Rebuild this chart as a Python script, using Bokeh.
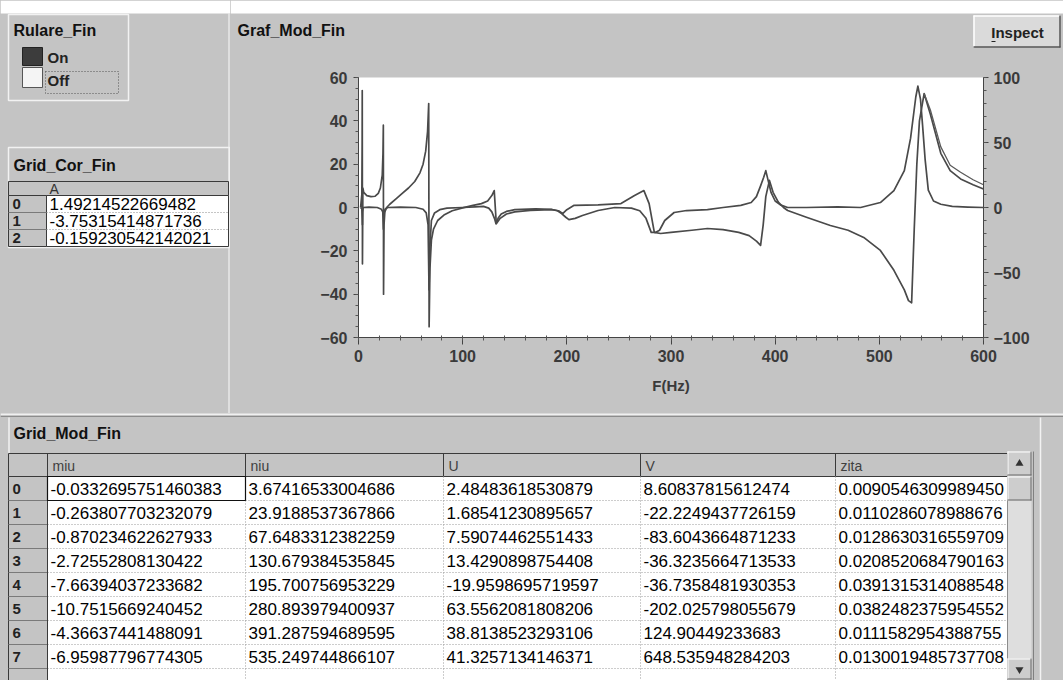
from bokeh.plotting import figure
from bokeh.models import Range1d, LinearAxis, FixedTicker
from bokeh.layouts import row, column
from bokeh.embed import file_html
from bokeh.resources import INLINE
from bokeh.core.properties import value

# ---------------- chart data ----------------
freq_A = [2, 3.2, 3.6, 3.75, 3.9, 4.5, 10, 18, 22, 23.3, 23.9, 24.4, 25.5, 28,
          40, 55, 62, 65, 66.8, 67.7, 68.6, 70, 73, 78, 85,
          100, 112, 120, 125, 128, 130.5, 132, 134, 137, 142, 150,
          170, 185, 191, 195, 199, 202, 208, 215, 230, 246,
          262, 270, 276, 281, 285, 289, 294, 303, 315, 335,
          350, 367, 377, 382, 386, 389, 391, 393, 396, 400,
          405, 412, 430, 460, 482, 501, 514, 524, 530, 535,
          537, 539.5, 541.5, 544, 547, 552, 559, 570, 585, 600]
resp_A = [0, -0.5, -5, -8, -2, 0, 0.2, 0, -0.8, -2, -10, -3, -0.8, 0,
          0.2, 0, -0.8, -2.5, -8, -38, -18, -6, -2.5, -1, -0.3,
          0, 0.3, 0.5, -0.3, -2, -5, -7.5, -5, -3, -1.8, -1,
          -0.6, -0.8, -1.5, -2.8, -4.5, -5.6, -5, -3.7, -1.4, 0,
          -0.3, -1.5, -5, -11.5, -11.5, -10.5, -6, -2.3, -1.4, -1,
          0, 1, 2.3, 5, 10, 14, 17, 13, 7, 3,
          1.2, 0, 0, 0.3, 0, 2.3, 7.8, 17, 32, 51,
          56, 50, 38, 22, 8, 3, 1.5, 0.5, 0.2, 0]

freq_B = [2, 3.2, 3.5, 3.6, 3.8, 4.2, 5, 8, 12, 16,
          19, 21, 22.8, 23.5, 23.85, 24.05, 24.5, 25.3, 27, 30,
          36, 42, 48, 54, 59, 62, 64.5, 66.3, 67.4, 67.8,
          68.6, 70, 72, 76, 82, 90, 100, 110, 118, 124,
          128, 130.3, 132.3, 136, 142, 150, 165, 185, 192, 196,
          200, 207, 230, 252, 265, 274, 279, 284, 290, 300,
          320, 335, 350, 365, 375, 382, 386, 388.5, 391, 394.5,
          398, 403, 408, 412, 430, 453, 470, 485, 501, 514,
          524, 528, 531, 533.5, 536, 538.5, 543, 549, 559, 568,
          578, 590, 600]
resp_B = [0, 6, 30, 54, -26, 9, 7, 5.5, 5, 5.2,
          6.5, 9, 15, 25, 38, -40, -8, -2, 0, 1.5,
          4, 6.5, 9, 12, 16, 20, 26, 35, 48, -55,
          -28, -15, -10, -6, -3.5, -1.5, -0.2, 1, 1.8, 3,
          5.5, 7.8, -7.5, -5, -3, -2, -1.3, -1, -1.5, -2.8,
          -1, 1, 1.2, 1.8, 5.5, 7.8, 1.8, -11.5, -12, -11.5,
          -10.5, -9.7, -10.2, -11.5, -13, -15.5, -17.5, -8, 5, 12.5,
          7, 2.5, 0, -1.4, -4.5, -8.3, -10.5, -13.8, -19.8, -29,
          -38, -43, -44, -10, 20, 40, 52.6, 43, 25, 17,
          13.2, 10.5, 8.5]

freq_B_fit = [543, 549, 559, 568, 578, 590, 600]
resp_B_fit = [52.6, 45, 28, 19.5, 16.3, 12.8, 10.5]

x_ticks = [0, 100, 200, 300, 400, 500, 600]
y_left_ticks = [-60, -40, -20, 0, 20, 40, 60]
y_right_ticks = [-100, -50, 0, 50, 100]
x_label = "F(Hz)"

# ---------------- table data ----------------
cor_title = "Grid_Cor_Fin"
cor_header = "A"
cor_A = ["1.49214522669482", "-3.75315414871736", "-0.159230542142021"]

mod_title = "Grid_Mod_Fin"
mod_headers = ["miu", "niu", "U", "V", "zita"]
miu = ["-0.0332695751460383", "-0.263807703232079", "-0.870234622627933", "-2.72552808130422",
       "-7.66394037233682", "-10.7515669240452", "-4.36637441488091", "-6.95987796774305"]
niu = ["3.67416533004686", "23.9188537367866", "67.6483312382259", "130.679384535845",
       "195.700756953229", "280.893979400937", "391.287594689595", "535.249744866107"]
U = ["2.48483618530879", "1.68541230895657", "7.59074462551433", "13.4290898754408",
     "-19.9598695719597", "63.5562081808206", "38.8138523293106", "41.3257134146371"]
V = ["8.60837815612474", "-22.2249437726159", "-83.6043664871233", "-36.3235664713533",
     "-36.7358481930353", "-202.025798055679", "124.90449233683", "648.535948284203"]
zita = ["0.0090546309989450", "0.0110286078988676", "0.0128630316559709", "0.0208520684790163",
        "0.0391315314088548", "0.0382482375954552", "0.0111582954388755", "0.0130019485737708"]

GRAY = "#c4c4c4"
FONT = "Liberation Sans"
LIGHT = "#f2f2f2"
DARK = "#3a3a3a"
BG = {"background-color": GRAY}


def ui_fig(w, h, y0=0):
    p = figure(width=w, height=h, x_range=Range1d(0, w), y_range=Range1d(y0 + h, y0),
               output_backend="svg", toolbar_location=None,
               x_axis_location=None, y_axis_location=None, min_border=0)
    p.grid.visible = False
    p.outline_line_color = None
    p.background_fill_color = GRAY
    p.border_fill_color = GRAY
    return p


def txt(p, xs, ys, texts, size="16px", bold=False, color="#111111", align="left"):
    p.text(x=xs, y=ys, text=texts, text_font=value(FONT), text_font_size=size,
           text_font_style="bold" if bold else "normal", text_color=color,
           text_align=align, text_baseline="middle")


def box(p, l, r, t, b, fill=None, line=None, lw=1, dash="solid"):
    p.quad(left=[l], right=[r], top=[t], bottom=[b], fill_color=fill,
           line_color=line, line_width=lw, line_dash=dash)


def seg(p, xs, ys, color, lw=1, dash="solid"):
    p.line(xs, ys, line_color=color, line_width=lw, line_dash=dash)


# ================= left column (page y 0..413) =================
L = ui_fig(230, 413)
box(L, 0, 230, 0, 13, fill="white")
seg(L, [228.5, 228.5], [13, 413], LIGHT, 1.2)
# Rulare_Fin switch
box(L, 8, 128, 14, 100, line=LIGHT, lw=1.5)
txt(L, [13], [30], ["Rulare_Fin"], bold=True)
box(L, 22, 42, 47, 65, fill="#3c3c3c", line="#222222")
box(L, 22, 42, 67, 87, fill="#f4f4f4", line="#555555")
txt(L, [47, 47], [57, 80], ["On", "Off"], size="15px", bold=True, color="#222222")
box(L, 45, 118, 71, 93, line="#555555", dash="1 2")
# Grid_Cor_Fin
box(L, 8, 229, 147, 247, line=LIGHT, lw=1.5)
txt(L, [13], [165], [cor_title], bold=True)
box(L, 8, 228, 181, 195, fill=GRAY, line=DARK)
box(L, 8, 46, 195, 246, fill=GRAY, line=DARK)
box(L, 46, 228, 195, 246, fill="white", line=DARK)
for k in range(1, len(cor_A)):
    yy = 195 + 17 * k
    seg(L, [46, 228], [yy, yy], "#8a8a8a", 1, "1 2")
    seg(L, [8, 46], [yy, yy], "#7a7a7a", 1)
txt(L, [49], [188], [cor_header], size="14px", color="#333333")
txt(L, [12] * len(cor_A), [203.5 + 17 * i for i in range(len(cor_A))],
    [str(i) for i in range(len(cor_A))], size="15px", bold=True, color="#222222")
txt(L, [49] * len(cor_A), [203.5 + 17 * i for i in range(len(cor_A))], cor_A, size="17px",
    color="#000000")

# ================= graph panel top band (page x 230..1063, y 0..60) =================
Bd = ui_fig(833, 60)
box(Bd, 0, 833, 0, 13, fill="white")
txt(Bd, [7], [30], ["Graf_Mod_Fin"], bold=True)
box(Bd, 743, 830, 15, 47, fill="#dadada")
seg(Bd, [743, 830], [15.5, 15.5], "white", 1.5)
seg(Bd, [743.5, 743.5], [15, 47], "white", 1.5)
seg(Bd, [743, 830], [46.5, 46.5], "#555555", 1.5)
seg(Bd, [829.5, 829.5], [15, 47], "#555555", 1.5)
txt(Bd, [787], [32], ["Inspect"], size="15px", bold=True, color="#222222", align="center")
seg(Bd, [761, 765], [41, 41], "#222222", 1)

# ================= chart (page x 230..1063, y 60..413) =================
C = figure(width=833, height=353, x_range=Range1d(0, 600), y_range=Range1d(-60, 60),
           output_backend="svg", toolbar_location=None,
           min_border_left=128, min_border_right=80, min_border_top=17, min_border_bottom=76)
C.extra_y_ranges = {"right": Range1d(-100, 100)}
C.add_layout(LinearAxis(y_range_name="right"), "right")
C.grid.visible = False
C.outline_line_color = None
C.background_fill_color = "white"
C.border_fill_color = GRAY

C.xaxis.ticker = FixedTicker(ticks=x_ticks, minor_ticks=list(range(0, 601, 20)))
C.yaxis[0].ticker = FixedTicker(ticks=y_left_ticks, minor_ticks=list(range(-60, 61, 5)))
C.yaxis[1].ticker = FixedTicker(ticks=y_right_ticks, minor_ticks=list(range(-100, 101, 10)))
for ax in C.axis:
    ax.axis_line_color = "#444444"
    ax.major_tick_line_color = "#444444"
    ax.minor_tick_line_color = "#555555"
    ax.major_tick_in = 0
    ax.major_tick_out = 5
    ax.minor_tick_in = 0
    ax.minor_tick_out = 3
    ax.major_label_text_font = FONT
    ax.major_label_text_font_size = "16px"
    ax.major_label_text_font_style = "bold"
    ax.major_label_text_color = "#3a3a3a"
    ax.major_label_standoff = 6
C.xaxis.major_tick_out = 7
C.xaxis.minor_tick_in = 2
C.xaxis.major_label_standoff = 5
C.xaxis.axis_label = x_label
C.xaxis.axis_label_text_font = FONT
C.xaxis.axis_label_text_font_size = "15px"
C.xaxis.axis_label_text_font_style = "bold"
C.xaxis.axis_label_text_color = "#3a3a3a"
C.xaxis.axis_label_standoff = 12
C.yaxis[1].major_label_standoff = 5

C.line(freq_A, resp_A, line_color="#4a4a4a", line_width=1.7, line_join="round")
C.line(freq_B, resp_B, line_color="#4a4a4a", line_width=1.7, line_join="round")
C.line(freq_B_fit, resp_B_fit, line_color="#5a5a5a", line_width=1.3, line_join="round")

# ================= bottom table (page y 413..680) =================
Bt = ui_fig(1063, 267)
seg(Bt, [0, 1063], [0.5, 0.5], "white", 1.5)
seg(Bt, [0, 1063], [3, 3], "#8c8c8c", 1)
seg(Bt, [8.5, 8.5], [4, 267], LIGHT, 1.5)
txt(Bt, [13], [20], [mod_title], bold=True)

col_edges = [8, 47, 245, 443, 640, 835, 1007]
head_t, head_b, row_h = 40, 63, 24
columns = [miu, niu, U, V, zita]
n = len(miu)

box(Bt, 8, 1007, head_t, head_b, fill=GRAY, line=DARK)
box(Bt, 8, 47, head_b, 267, fill=GRAY, line=DARK)
box(Bt, 47, 1007, head_b, 268, fill="white", line=DARK)
for k in range(1, n + 1):
    yy = head_b + row_h * k
    seg(Bt, [47, 1007], [yy, yy], "#9a9a9a", 1, "1 2")
    seg(Bt, [8, 47], [yy, yy], "#7a7a7a", 1)
for e in col_edges[1:-1]:
    seg(Bt, [e, e], [head_t, head_b], DARK, 1)
    seg(Bt, [e, e], [head_b, 267], "#9a9a9a", 1, "1 2")
seg(Bt, [47, 47], [head_b, 267], DARK, 1)

txt(Bt, [e + 5 for e in col_edges[1:6]], [52] * 5, mod_headers, size="14px", color="#404040")
txt(Bt, [12] * n, [head_b + 12 + row_h * i for i in range(n)], [str(i) for i in range(n)],
    size="15px", bold=True, color="#222222")
for ci, colvals in enumerate(columns):
    txt(Bt, [col_edges[ci + 1] + 3] * n, [head_b + 12 + row_h * i for i in range(n)],
        colvals, size="17px", color="#000000")
box(Bt, 47, 245, head_b, head_b + row_h, line="#111111", lw=1.2)

# scrollbar (drawn last so it clips overflowing text)
box(Bt, 1007, 1031, 38, 267, fill="#dedede")
for (t, b) in [(38, 62), (63, 87), (245, 266)]:
    box(Bt, 1007, 1031, t, b, fill="#cdcdcd")
    seg(Bt, [1007, 1031], [t + 0.5, t + 0.5], "white", 1)
    seg(Bt, [1007.5, 1007.5], [t, b], "white", 1)
    seg(Bt, [1007, 1031], [b - 0.5, b - 0.5], "#666666", 1)
    seg(Bt, [1030.5, 1030.5], [t, b], "#666666", 1)
Bt.scatter([1019], [50], marker="triangle", size=8, fill_color="#333333", line_color=None)
Bt.scatter([1019], [256], marker="inverted_triangle", size=8, fill_color="#333333", line_color=None)
seg(Bt, [1033, 1033], [38, 267], "#808080", 1)
seg(Bt, [1040, 1040], [4, 267], LIGHT, 1.5)

layout = column(row(L, column(Bd, row(C, styles=BG), styles=BG), styles=BG), Bt, styles=BG)
open("out.html", "w").write(file_html(layout, INLINE))
